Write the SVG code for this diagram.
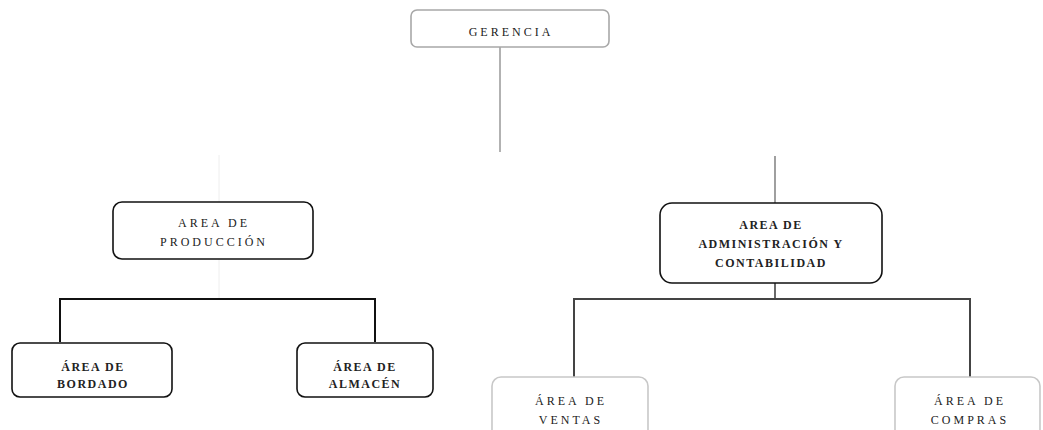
<svg xmlns="http://www.w3.org/2000/svg" width="1043" height="430" viewBox="0 0 1043 430">
<style>
.t{font-family:"Liberation Serif","Times New Roman",serif;font-size:12px;letter-spacing:3px;fill:#222;text-anchor:middle}
.b{font-weight:bold;letter-spacing:1.5px}
.box{fill:#fff;stroke:#111;stroke-width:1.6}
.light{stroke:#c8c8c8}
.grey{stroke:#a8a8a8}
.c{fill:none;stroke-linecap:butt}
</style>
<rect width="1043" height="430" fill="#fff"/>
<g id="connectors">
<line class="c" x1="500" y1="47" x2="500" y2="152" stroke="#999" stroke-width="1.5"/>
<line class="c" x1="219" y1="155" x2="219" y2="299" stroke="#eee" stroke-width="1"/>
<line class="c" x1="775" y1="156" x2="775" y2="203" stroke="#888" stroke-width="1.6"/>
<polyline class="c" points="60,342 60,299 375,299 375,342" stroke="#111" stroke-width="2"/>
<polyline class="c" points="574,377 574,299 970,299 970,377" stroke="#444" stroke-width="2"/>
<line class="c" x1="775" y1="283" x2="775" y2="299" stroke="#444" stroke-width="1.6"/>
</g>
<g id="gerencia">
<rect class="box grey" x="411" y="10" width="198" height="37" rx="6"/>
<text class="t" x="511" y="36">GERENCIA</text>
</g>
<g id="produccion">
<rect class="box" x="113" y="202" width="200" height="57" rx="9"/>
<text class="t" x="214" y="227">AREA DE</text>
<text class="t" x="214" y="246">PRODUCCIÓN</text>
</g>
<g id="administracion">
<rect class="box" x="660" y="203" width="222" height="80" rx="12" stroke-width="2.4"/>
<text class="t b" x="771" y="229">AREA DE</text>
<text class="t b" x="771" y="248">ADMINISTRACIÓN Y</text>
<text class="t b" x="771" y="267">CONTABILIDAD</text>
</g>
<g id="bordado">
<rect class="box" x="12" y="343" width="160" height="54" rx="8"/>
<text class="t b" x="93" y="371">ÁREA DE</text>
<text class="t b" x="93" y="388">BORDADO</text>
</g>
<g id="almacen">
<rect class="box" x="297" y="343" width="136" height="54" rx="8"/>
<text class="t b" x="365" y="371">ÁREA DE</text>
<text class="t b" x="365" y="388">ALMACÉN</text>
</g>
<g id="ventas">
<rect class="box light" x="492" y="377" width="156" height="62" rx="9"/>
<text class="t" x="571" y="405">ÁREA DE</text>
<text class="t" x="571" y="424">VENTAS</text>
</g>
<g id="compras">
<rect class="box light" x="895" y="377" width="145" height="62" rx="9"/>
<text class="t" x="970" y="405">ÁREA DE</text>
<text class="t" x="970" y="424">COMPRAS</text>
</g>
</svg>
